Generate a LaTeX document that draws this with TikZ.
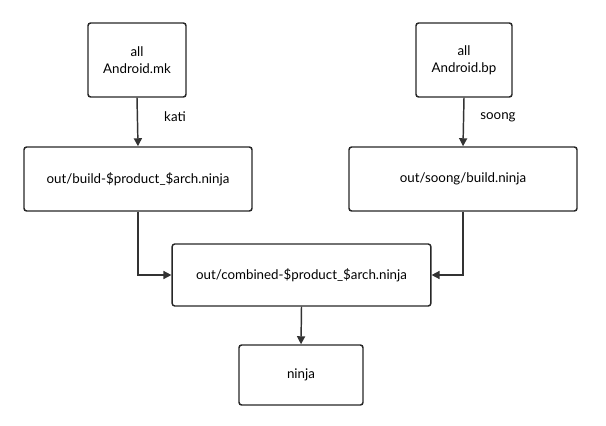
\documentclass[tikz,border=0pt]{standalone}
\usepackage{fontspec}
\setmainfont{Lato}
\usetikzlibrary{arrows.meta}
\begin{document}
\begin{tikzpicture}[x=0.75pt,y=-0.75pt,
  box/.style={draw=black!85,line width=1.1pt,rounded corners=2pt,align=center,font=\fontsize{10}{13}\selectfont,inner sep=0pt},
  arr/.style={draw=black!80,line width=1.1pt,-{Triangle[length=6pt,width=6pt]}},
  lab/.style={font=\fontsize{10}{12}\selectfont}]
\useasboundingbox (0,0) rectangle (606,425);
\node[box,minimum width=73.5pt,minimum height=55.5pt] (mk) at (137,60) {all\\Android.mk};
\node[box,minimum width=72pt,minimum height=55.5pt] (bp) at (464,60) {all\\Android.bp};
\node[box,minimum width=171pt,minimum height=48pt] (bn) at (138,179) {out/build-\$product\_\$arch.ninja};
\node[box,minimum width=171pt,minimum height=48pt] (sn) at (463,179) {out/soong/build.ninja};
\node[box,minimum width=194pt,minimum height=46.5pt] (cb) at (301.5,275) {out/combined-\$product\_\$arch.ninja};
\node[box,minimum width=93pt,minimum height=45pt] (nj) at (301,375) {ninja};
\draw[arr] (mk.south) -- (bn.north);
\draw[arr] (bp.south) -- (sn.north);
\node[lab] (kati) at (175,117) {kati};
\node[lab] (soong) at (498,117) {soong};
\draw[arr] (bn.south) |- (cb.west);
\draw[arr] (sn.south) |- (cb.east);
\draw[arr] (cb.south) -- (nj.north);
\end{tikzpicture}
\end{document}
